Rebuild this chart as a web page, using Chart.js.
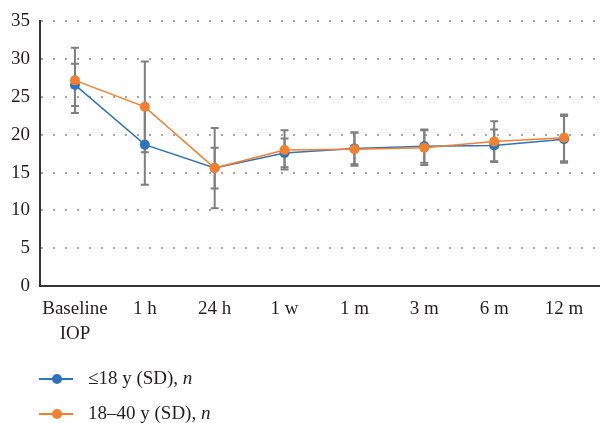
<!DOCTYPE html>
<html>
<head>
<meta charset="utf-8">
<script src="https://cdn.jsdelivr.net/npm/chart.js@4"></script>
<style>
  html, body { margin: 0; padding: 0; background: #fff; overflow: hidden; }
  #wrap { width: 604px; height: 423px; }
</style>
</head>
<body>
<div id="wrap"><canvas id="iopChart"></canvas></div>
<script>
const labels = [["Baseline", "IOP"], "1 h", "24 h", "1 w", "1 m", "3 m", "6 m", "12 m"];

// <=18 y group
const youngMean = [26.6, 18.7, 15.6, 17.6, 18.2, 18.5, 18.6, 19.4];
const youngSD   = [2.8, 5.3, 2.7, 1.9, 2.1, 2.2, 2.1, 3.1];

// 18-40 y group
const adultMean = [27.2, 23.7, 15.6, 18.0, 18.1, 18.3, 19.1, 19.6];
const adultSD   = [4.3, 6.0, 5.3, 2.6, 2.2, 2.3, 2.7, 3.1];

const yTicks = [0, 5, 10, 15, 20, 25, 30, 35];

const BLUE = "#2E74BC";
const ORANGE = "#F47F2E";
const SERIF = "'Liberation Serif', 'DejaVu Serif', serif";

// error bars drawn under the lines
const errorBars = {
  id: "errorBars",
  beforeDatasetsDraw(chart) {
    const ctx = chart.ctx;
    const y = chart.scales.y;
    ctx.save();
    ctx.strokeStyle = "#7f7f7f";
    ctx.lineWidth = 2;
    chart.data.datasets.forEach((ds, di) => {
      const meta = chart.getDatasetMeta(di);
      meta.data.forEach((pt, i) => {
        const sd = ds.sd[i];
        const top = y.getPixelForValue(ds.data[i] + sd);
        const bot = y.getPixelForValue(ds.data[i] - sd);
        ctx.beginPath();
        ctx.moveTo(pt.x, top); ctx.lineTo(pt.x, bot);
        ctx.moveTo(pt.x - 4, top); ctx.lineTo(pt.x + 4, top);
        ctx.moveTo(pt.x - 4, bot); ctx.lineTo(pt.x + 4, bot);
        ctx.stroke();
      });
    });
    ctx.restore();
  }
};

// legend: line with a dot, stacked vertically
const sideLegend = {
  id: "sideLegend",
  afterDraw(chart) {
    const ctx = chart.ctx;
    const rows = [379, 414];
    ctx.save();
    chart.data.datasets.forEach((ds, i) => {
      const yy = rows[i];
      ctx.strokeStyle = ds.borderColor;
      ctx.lineWidth = 2;
      ctx.beginPath(); ctx.moveTo(39, yy); ctx.lineTo(73, yy); ctx.stroke();
      ctx.fillStyle = ds.backgroundColor;
      ctx.beginPath(); ctx.arc(57, yy, 5, 0, Math.PI * 2); ctx.fill();
      ctx.fillStyle = "#231f20";
      ctx.textBaseline = "middle";
      ctx.font = "19px " + SERIF;
      ctx.fillText(ds.label, 88, yy);
      const w = ctx.measureText(ds.label).width;
      ctx.font = "italic 19px " + SERIF;
      ctx.fillText("n", 88 + w, yy);
    });
    ctx.restore();
  }
};

new Chart(document.getElementById("iopChart"), {
  type: "line",
  data: {
    labels: labels,
    datasets: [
      {
        label: "\u226418 y (SD), ",
        data: youngMean,
        sd: youngSD,
        borderColor: BLUE,
        backgroundColor: BLUE,
        borderWidth: 1.5,
        pointRadius: 5,
        pointBorderWidth: 0,
        tension: 0,
        order: 2
      },
      {
        label: "18\u201340 y (SD), ",
        data: adultMean,
        sd: adultSD,
        borderColor: ORANGE,
        backgroundColor: ORANGE,
        borderWidth: 1.5,
        pointRadius: 5,
        pointBorderWidth: 0,
        tension: 0,
        order: 1
      }
    ]
  },
  options: {
    responsive: true,
    maintainAspectRatio: false,
    animation: false,
    layout: { padding: { top: 20, right: 0, left: 0, bottom: 0 } },
    plugins: {
      legend: { display: false },
      tooltip: { enabled: false }
    },
    scales: {
      x: {
        offset: true,
        grid: { display: false, drawTicks: false },
        border: { display: true, color: "#333", width: 2 },
        ticks: {
          padding: 10,
          color: "#231f20",
          font: { family: SERIF, size: 19, lineHeight: 1.32 },
          maxRotation: 0,
          autoSkip: false
        },
        afterFit(scale) { scale.height = 137; }
      },
      y: {
        min: yTicks[0],
        max: yTicks[yTicks.length - 1],
        afterBuildTicks(scale) { scale.ticks = yTicks.map(v => ({ value: v })); },
        grid: {
          color: "#a6a6a6",
          lineWidth: 2,
          drawTicks: false
        },
        border: { display: true, color: "#333", width: 2, dash: [2, 10] },
        ticks: {
          padding: 10,
          color: "#231f20",
          font: { family: SERIF, size: 19 }
        },
        afterFit(scale) { scale.width = 40; }
      }
    }
  },
  plugins: [errorBars, sideLegend]
});
</script>
</body>
</html>
